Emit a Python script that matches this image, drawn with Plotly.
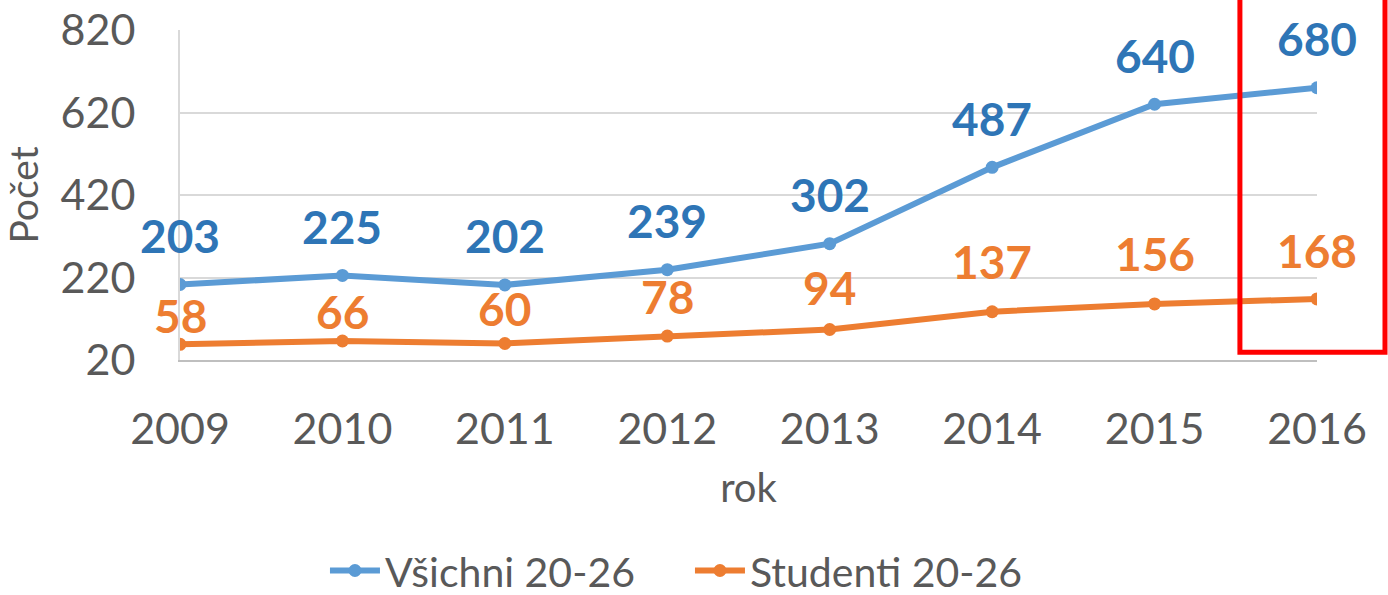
import plotly.graph_objects as go

years = [2009, 2010, 2011, 2012, 2013, 2014, 2015, 2016]
vsichni = [203, 225, 202, 239, 302, 487, 640, 680]
studenti = [58, 66, 60, 78, 94, 137, 156, 168]
y_ticks = [20, 220, 420, 620, 820]
series_names = ["Všichni 20-26", "Studenti 20-26"]

# label offsets (pixels above the point), styling only
vsichni_shift = [49, 49, 49, 49, 49, 49, 49, 49]
studenti_shift = [29, 30, 35, 40, 42, 50, 50, 48]

FONT = "Lato"
GREY = "#595959"
BLUE_LINE = "#5B9BD5"
BLUE_TEXT = "#2E75B6"
ORANGE = "#ED7D31"

fig = go.Figure()
fig.add_trace(go.Scatter(x=years, y=vsichni, name=series_names[0], mode="lines+markers",
                         line=dict(color=BLUE_LINE, width=6), marker=dict(size=13, color=BLUE_LINE)))
fig.add_trace(go.Scatter(x=years, y=studenti, name=series_names[1], mode="lines+markers",
                         line=dict(color=ORANGE, width=6), marker=dict(size=13, color=ORANGE)))

annotations = []
for x, v, s in zip(years, vsichni, vsichni_shift):
    annotations.append(dict(x=x, y=v, text=str(v), showarrow=False, yshift=s, xref="x", yref="y",
                            font=dict(family=FONT, size=46, color=BLUE_TEXT, weight="bold")))
for x, v, s in zip(years, studenti, studenti_shift):
    annotations.append(dict(x=x, y=v, text=str(v), showarrow=False, yshift=s, xref="x", yref="y",
                            font=dict(family=FONT, size=46, color=ORANGE, weight="bold")))

fig.update_layout(
    width=1388, height=595,
    margin=dict(l=180, r=71, t=30, b=235, autoexpand=False),
    paper_bgcolor="white", plot_bgcolor="white",
    font=dict(family=FONT, color=GREY),
    annotations=annotations,
    showlegend=True,
    legend=dict(orientation="h", x=0.1275, xanchor="left", y=-0.639, yanchor="middle",
                font=dict(family=FONT, size=41, color=GREY), itemwidth=50,
                entrywidth=300, entrywidthmode="pixels",
                bgcolor="rgba(0,0,0,0)"),
    xaxis=dict(range=[years[0], years[-1]], tickvals=years, ticktext=[str(y) for y in years],
               showgrid=False, zeroline=False, showline=True, linecolor="#BFBFBF", linewidth=2,
               tickfont=dict(family=FONT, size=43, color=GREY), ticks="", ticklabelstandoff=30,
               automargin=False,
               title=dict(text="rok", font=dict(family=FONT, size=40, color=GREY), standoff=22)),
    yaxis=dict(range=[y_ticks[0], y_ticks[-1]], tickvals=y_ticks, showgrid=True, gridcolor="#D9D9D9",
               gridwidth=2, zeroline=False, showline=True, linecolor="#D9D9D9", linewidth=2,
               tickfont=dict(family=FONT, size=43, color=GREY), ticks="", ticklabelstandoff=34,
               automargin=False,
               title=dict(text="Počet", font=dict(family=FONT, size=39, color=GREY), standoff=10)),
    shapes=[dict(type="rect", xref="paper", yref="paper", x0=0.9322, x1=1.0598, y0=0.0235, y1=1.3,
                 line=dict(color="red", width=5), fillcolor="rgba(0,0,0,0)", layer="above")],
)

fig.write_html("out.html", config={"displayModeBar": False},
               post_script="document.body.style.margin='0px';")
